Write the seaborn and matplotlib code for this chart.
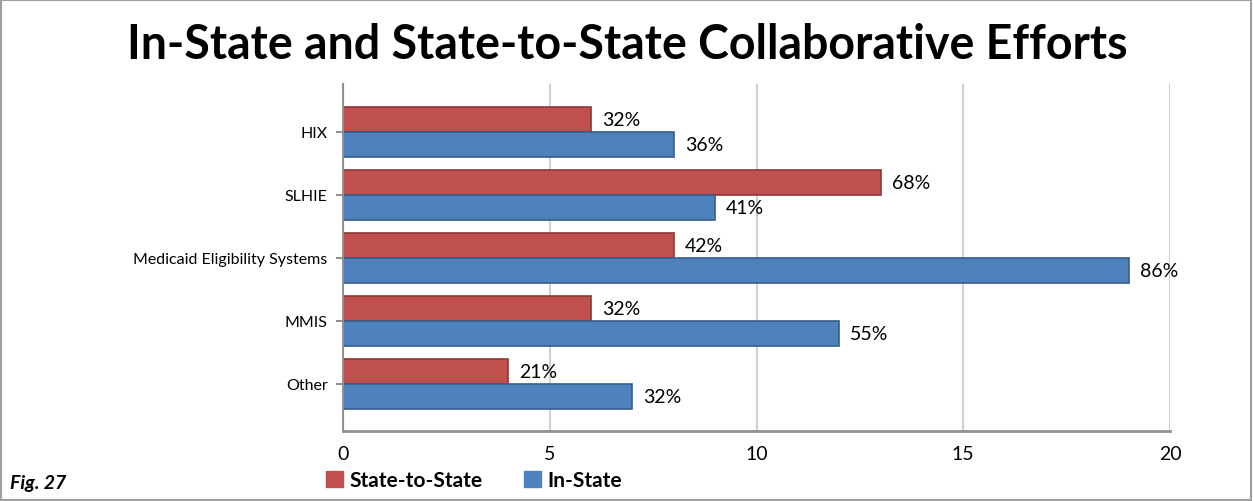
import matplotlib
matplotlib.use("Agg")
import matplotlib.pyplot as plt
import seaborn as sns
import pandas as pd
from matplotlib.patches import Rectangle

categories = ["HIX", "SLHIE", "Medicaid Eligibility Systems", "MMIS", "Other"]
state_to_state = [6, 13, 8, 6, 4]
in_state = [8, 9, 19, 12, 7]
state_to_state_labels = ["32%", "68%", "42%", "32%", "21%"]
in_state_labels = ["36%", "41%", "86%", "55%", "32%"]
series = ["State-to-State", "In-State"]
colors = ["#C0504D", "#4F81BD"]
edge_colors = ["#8C3836", "#385D8A"]
x_ticks = [0, 5, 10, 15, 20]

df = pd.DataFrame({
    "category": categories * 2,
    "value": state_to_state + in_state,
    "series": [series[0]] * len(categories) + [series[1]] * len(categories),
})

sns.set_theme(style="white")
plt.rcParams["font.family"] = ["Lato", "DejaVu Sans"]
plt.rcParams["text.color"] = "black"
plt.rcParams["xtick.color"] = "black"
plt.rcParams["ytick.color"] = "black"
plt.rcParams["axes.labelcolor"] = "black"

fig = plt.figure(figsize=(12.54, 5.02), dpi=100)
ax = fig.add_axes([343 / 1254, 1 - 432 / 502, (1170 - 343) / 1254, (432 - 85) / 502])

sns.barplot(data=df, y="category", x="value", hue="series", orient="h",
            palette=colors, hue_order=series, order=categories,
            width=0.8, ax=ax, legend=False, saturation=1)

for cont, ec, labs in zip(ax.containers, edge_colors, [state_to_state_labels, in_state_labels]):
    for patch in cont:
        patch.set_edgecolor(ec)
        patch.set_linewidth(1.2)
    ax.bar_label(cont, labels=labs, padding=8, fontsize=14, color="black")

ax.set_xlim(0, 20)
ax.set_ylim(4.75, -0.76)
ax.set_xticks(x_ticks)
ax.set_xticklabels([str(t) for t in x_ticks], fontsize=14)
ax.tick_params(axis="x", pad=10, length=0, colors="black")
ax.tick_params(axis="y", labelsize=11.5, pad=6, length=5, left=True, color="#808080",
               labelcolor="black")
ax.set_xlabel("")
ax.set_ylabel("")
ax.grid(axis="x", color="#D0D0D0", linewidth=1.5)
ax.set_axisbelow(True)
for s in ["top", "right"]:
    ax.spines[s].set_visible(False)
ax.spines["left"].set_color("#909090")
ax.spines["bottom"].set_color("#909090")
ax.spines["left"].set_linewidth(1.5)
ax.spines["bottom"].set_linewidth(2)

fig.text(0.5, 1 - 45 / 502, "In-State and State-to-State Collaborative Efforts",
         ha="center", va="center", fontsize=33.5, fontweight="bold", color="black")
fig.text(10 / 1254, 1 - 484 / 502, "Fig. 27", ha="left", va="center",
         fontsize=14, fontweight="bold", fontstyle="italic", color="black")

handles = [Rectangle((0, 0), 1, 1, color=c) for c in colors]
fig.legend(handles, series, loc="center", bbox_to_anchor=(474 / 1254, 1 - 481 / 502),
           ncol=2, frameon=False, prop={"weight": "bold", "size": 15},
           handlelength=0.8, handleheight=0.8, handletextpad=0.3, columnspacing=2.0)

fig.patches.append(Rectangle((0.001, 0.002), 0.997, 0.996, transform=fig.transFigure,
                             fill=False, edgecolor="#A0A0A0", linewidth=1.5))

fig.savefig("out.png", dpi=100)
